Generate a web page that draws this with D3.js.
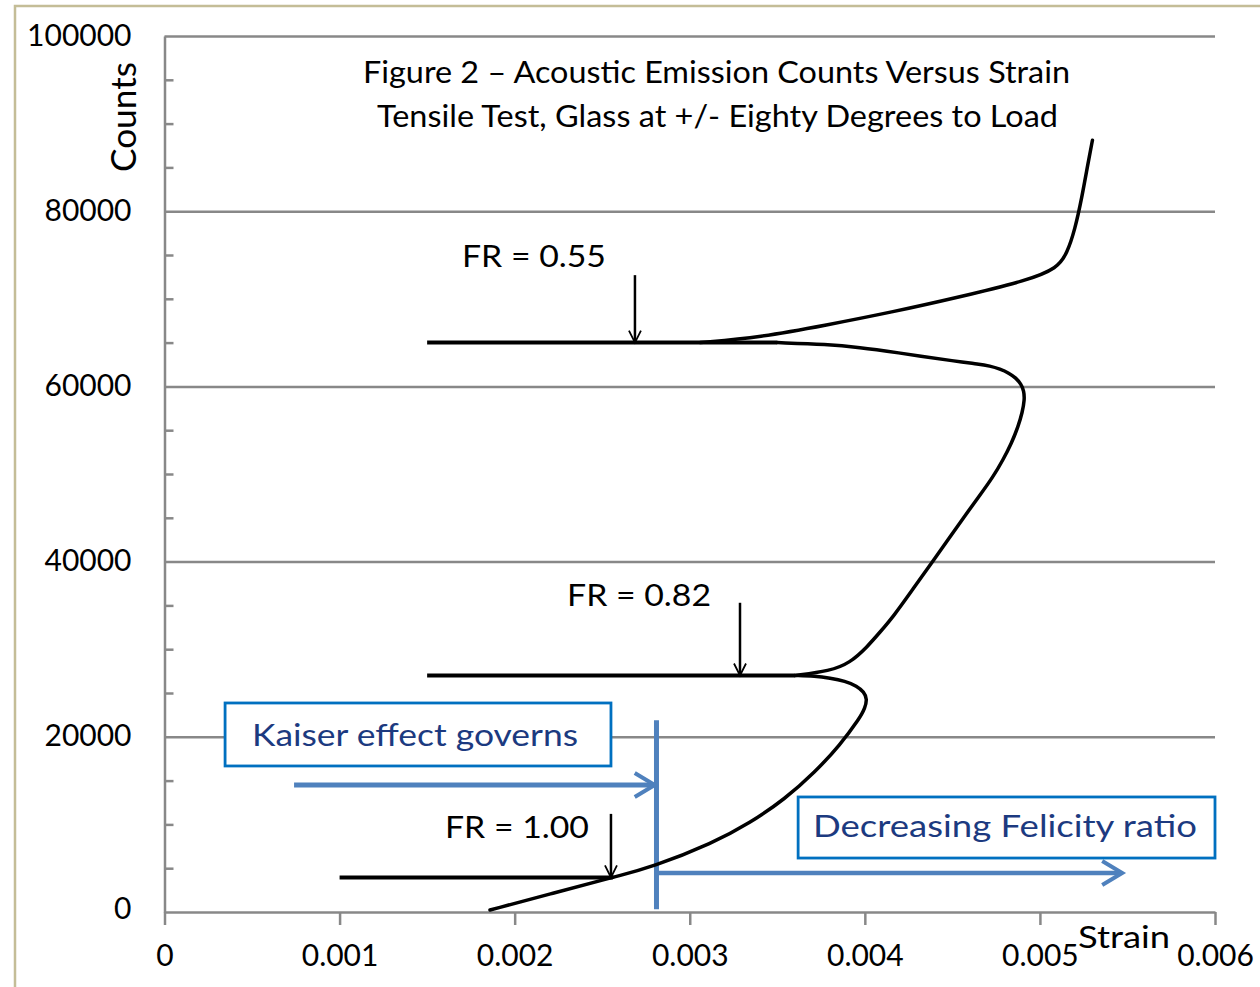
<!DOCTYPE html>
<html>
<head>
<meta charset="utf-8">
<script src="https://cdn.jsdelivr.net/npm/d3@7"></script>
<style>
  html, body { margin: 0; padding: 0; background: #ffffff; }
  svg { display: block; font-family: Lato, "Open Sans", sans-serif; }
</style>
</head>
<body>
<script>
// ---- Axis ticks -------------------------------------------------------
const strainTicks = [0, 0.001, 0.002, 0.003, 0.004, 0.005, 0.006];
const strainTickLabels = ["0", "0.001", "0.002", "0.003", "0.004", "0.005", "0.006"];
const countTicks = [0, 20000, 40000, 60000, 80000, 100000];
const countTickLabels = ["0", "20000", "40000", "60000", "80000", "100000"];
const countMinorTicks = [5000, 10000, 15000, 25000, 30000, 35000, 45000, 50000, 55000,
                         65000, 70000, 75000, 85000, 90000, 95000];

// ---- Acoustic emission record: loading stages [strain, counts] ----------
const stage1 = [[0.001859, 230], [0.002202, 2050], [0.00256, 3950]];
const stage2 = [[0.00256, 3950], [0.00279, 5140], [0.003133, 7880], [0.003344, 10160],
                [0.003544, 12900], [0.003716, 15980], [0.003858, 19060], [0.003972, 22150],
                [0.004001, 23290], [0.004013, 24320], [0.003995, 25110], [0.003955, 25800],
                [0.003887, 26370], [0.003801, 26710], [0.003716, 26940], [0.00360, 27000]];
const stage3 = [[0.00360, 27000], [0.003801, 27510], [0.003915, 28430], [0.004013, 30250],
                [0.004087, 31960], [0.004161, 33680], [0.004275, 36870], [0.004389, 40070],
                [0.004486, 42810], [0.004583, 45550], [0.004658, 47600], [0.004732, 49660],
                [0.004789, 51600], [0.004838, 53540], [0.004875, 55370], [0.004900, 57080],
                [0.004912, 58450], [0.004909, 59480], [0.004892, 60270], [0.004863, 60960],
                [0.004823, 61530], [0.004772, 61990], [0.004715, 62330], [0.004646, 62560],
                [0.004544, 62790], [0.00416, 63930], [0.003972, 64440], [0.003784, 64800],
                [0.00350, 65000]];
const stage4 = [[0.00306, 65000], [0.00340, 65600], [0.00378, 67000], [0.00416, 68500],
                [0.00454, 70200], [0.00493, 72100], [0.00510, 73500], [0.005155, 75200],
                [0.00520, 77900], [0.00524, 81600], [0.005275, 85500], [0.00530, 88100]];

// Load holds: counts stay constant while strain is unloaded and reloaded
const holdCounts = [3950, 27000, 65000];
const holdStrainMin = [0.00100, 0.00150, 0.00150];
const holdStrainMax = [0.00256, 0.00360, 0.00350];

// Felicity ratio callouts
const frLabels = ["FR = 1.00", "FR = 0.82", "FR = 0.55"];
const frStrain = [0.00255, 0.003287, 0.002687];
const frCounts = [3950, 27000, 65000];
const frArrowTop = [11200, 35300, 72700];
const frLabelStrain = [0.001602, 0.002299, 0.001699];
const frLabelCounts = [8500, 34900, 73600];

// Kaiser / Felicity boundary annotations
const kaiserStrain = 0.00281;
const kaiserSpan = [300, 21900];
const kaiserArrow = { from: 0.00074, to: 0.00280, counts: 14500 };
const felicityArrow = { from: 0.00281, to: 0.00547, counts: 4450 };

// ---- Scales -----------------------------------------------------------
const x = d3.scaleLinear().domain([0, 0.006]).range([164.5, 1215]);
const y = d3.scaleLinear().domain([0, 100000]).range([912, 36]);

const svg = d3.select("body").append("svg")
  .attr("width", 1260).attr("height", 987);

svg.append("rect").attr("width", 1260).attr("height", 987).attr("fill", "#ffffff");

// chart area frame
svg.append("rect")
  .attr("x", 15).attr("y", 6).attr("width", 1400).attr("height", 1200)
  .attr("fill", "#ffffff").attr("stroke", "#c4bd97").attr("stroke-width", 2.5);

const GRID = "#888888";

// horizontal gridlines
svg.append("g")
  .attr("transform", `translate(${x(0)},0)`)
  .call(d3.axisLeft(y).tickValues(countTicks.filter(d => d > 0))
        .tickSize(-(x(0.006) - x(0))).tickFormat(""))
  .call(g => g.select(".domain").remove())
  .call(g => g.selectAll("line").attr("stroke", GRID).attr("stroke-width", 2.5));

// minor ticks on the count axis
svg.append("g")
  .attr("transform", `translate(${x(0)},0)`)
  .call(d3.axisRight(y).tickValues(countMinorTicks).tickSize(9).tickFormat(""))
  .call(g => g.select(".domain").remove())
  .call(g => g.selectAll("line").attr("stroke", GRID).attr("stroke-width", 2.5));

// count axis
svg.append("g")
  .attr("transform", `translate(${x(0)},0)`)
  .call(d3.axisLeft(y).tickValues(countTicks).tickSize(0)
        .tickFormat((d, i) => countTickLabels[i]))
  .call(g => g.select(".domain").attr("stroke", GRID).attr("stroke-width", 2.5))
  .call(g => g.selectAll("text")
        .attr("x", -33).attr("dy", 0)
        .attr("y", d => Math.min(9, y(0) + 6 - y(d)))
        .attr("font-family", "Lato, sans-serif")
        .attr("font-size", 30).attr("fill", "#000"));

// strain axis
svg.append("g")
  .attr("transform", `translate(0,${y(0)})`)
  .call(d3.axisBottom(x).tickValues(strainTicks).tickSizeInner(13).tickSizeOuter(0)
        .tickFormat((d, i) => strainTickLabels[i]))
  .call(g => g.select(".domain").attr("stroke", GRID).attr("stroke-width", 2.5))
  .call(g => g.selectAll("line").attr("stroke", GRID).attr("stroke-width", 2.5))
  .call(g => g.selectAll("text")
        .attr("y", 54).attr("dy", 0)
        .attr("font-family", "Lato, sans-serif")
        .attr("font-size", 30).attr("fill", "#000"));

// axis titles
svg.append("text")
  .attr("transform", "translate(136,117) rotate(-90)")
  .attr("text-anchor", "middle")
  .attr("font-size", 34).attr("fill", "#000")
  .attr("textLength", 110).attr("lengthAdjust", "spacingAndGlyphs")
  .text("Counts");

svg.append("text")
  .attr("x", 1078).attr("y", 948)
  .attr("font-size", 30).attr("fill", "#000")
  .attr("textLength", 92).attr("lengthAdjust", "spacingAndGlyphs")
  .text("Strain");

// chart title
const titleLines = [
  { text: "Figure 2 – Acoustic Emission Counts Versus Strain", cx: 716.5, base: 83, len: 707 },
  { text: "Tensile Test, Glass at +/- Eighty Degrees to Load", cx: 717.5, base: 127, len: 681 }
];
svg.selectAll("text.title").data(titleLines).join("text")
  .attr("class", "title")
  .attr("x", d => d.cx).attr("y", d => d.base)
  .attr("text-anchor", "middle")
  .attr("font-size", 30).attr("fill", "#000")
  .attr("textLength", d => d.len).attr("lengthAdjust", "spacingAndGlyphs")
  .text(d => d.text);

// ---- Kaiser / Felicity annotations ------------------------------------
const BLUE = "#4f81bd";
const BOX = "#0070c0";
const NAVY = "#1c3a80";

function chevron(tipX, tipY, dirX, dirY, len, half) {
  // open arrowhead pointing along (dirX, dirY)
  const bx = tipX - dirX * len, by = tipY - dirY * len;
  const px = -dirY * half, py = dirX * half;
  return `M${bx + px},${by + py}L${tipX},${tipY}L${bx - px},${by - py}`;
}

const ann = svg.append("g");

// boundary line
ann.append("line")
  .attr("x1", x(kaiserStrain)).attr("x2", x(kaiserStrain))
  .attr("y1", y(kaiserSpan[0])).attr("y2", y(kaiserSpan[1]))
  .attr("stroke", BLUE).attr("stroke-width", 5);

// horizontal arrows
[[kaiserArrow, 5], [felicityArrow, 4.5]].forEach(([a, w]) => {
  ann.append("line")
    .attr("x1", x(a.from)).attr("x2", x(a.to) - 2)
    .attr("y1", y(a.counts)).attr("y2", y(a.counts))
    .attr("stroke", BLUE).attr("stroke-width", w);
  ann.append("path")
    .attr("d", chevron(x(a.to), y(a.counts), 1, 0, 20, 12))
    .attr("fill", "none").attr("stroke", BLUE).attr("stroke-width", 4);
});

// text boxes
const boxes = [
  { text: "Kaiser effect governs", s0: 0.000346, s1: 0.00255, c0: 23860, c1: 16670,
    tx: 0.0005, tc: 18950, len: 326 },
  { text: "Decreasing Felicity ratio", s0: 0.003619, s1: 0.006, c0: 13130, c1: 6160,
    tx: 0.003704, tc: 8560, len: 384 }
];
boxes.forEach(b => {
  ann.append("rect")
    .attr("x", x(b.s0)).attr("y", y(b.c0))
    .attr("width", x(b.s1) - x(b.s0)).attr("height", y(b.c1) - y(b.c0))
    .attr("fill", "#ffffff").attr("stroke", BOX).attr("stroke-width", 2.8);
  ann.append("text")
    .attr("x", x(b.tx)).attr("y", y(b.tc))
    .attr("font-size", 30).attr("fill", NAVY)
    .attr("textLength", b.len).attr("lengthAdjust", "spacingAndGlyphs")
    .text(b.text);
});

// ---- AE counts curve --------------------------------------------------
const line = d3.line()
  .x(d => x(d[0])).y(d => y(d[1]))
  .curve(d3.curveBasis);

const plot = svg.append("g");

plot.selectAll("line.hold").data(holdCounts).join("line")
  .attr("class", "hold")
  .attr("x1", (d, i) => x(holdStrainMin[i])).attr("x2", (d, i) => x(holdStrainMax[i]))
  .attr("y1", d => y(d)).attr("y2", d => y(d))
  .attr("stroke", "#000").attr("stroke-width", 4);

plot.selectAll("path.stage").data([stage1, stage2, stage3, stage4]).join("path")
  .attr("class", "stage")
  .attr("d", line)
  .attr("fill", "none").attr("stroke", "#000")
  .attr("stroke-width", 3.5).attr("stroke-linejoin", "round").attr("stroke-linecap", "round");

// Felicity ratio callouts
frLabels.forEach((lab, i) => {
  const ax = x(frStrain[i]);
  plot.append("line")
    .attr("x1", ax).attr("x2", ax)
    .attr("y1", y(frArrowTop[i])).attr("y2", y(frCounts[i]))
    .attr("stroke", "#000").attr("stroke-width", 2.5);
  plot.append("path")
    .attr("d", chevron(ax, y(frCounts[i]), 0, 1, 12, 6))
    .attr("fill", "none").attr("stroke", "#000").attr("stroke-width", 1.8);
  plot.append("text")
    .attr("x", x(frLabelStrain[i])).attr("y", y(frLabelCounts[i]))
    .attr("font-size", 30).attr("fill", "#000")
    .attr("textLength", 144).attr("lengthAdjust", "spacingAndGlyphs")
    .text(lab);
});
</script>
</body>
</html>
